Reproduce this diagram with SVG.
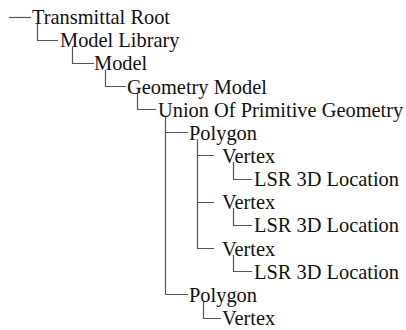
<svg xmlns="http://www.w3.org/2000/svg" width="406" height="330" viewBox="0 0 406 330">
<style>
.t{font-family:"Liberation Serif","Times New Roman",serif;font-size:20.4px;fill:#111}
.c{fill:none;stroke:#555;stroke-width:1.2}
</style>
<rect width="406" height="330" fill="#fff"/>
<g id="connectors">
<path class="c" d="M9 17.5H31"/>
<path class="c" d="M37.5 24V40.5H58"/>
<path class="c" d="M72.5 47V63.5H94"/>
<path class="c" d="M105.5 70V86.5H126"/>
<path class="c" d="M137.5 93V109.5H156"/>
<path class="c" d="M165.5 116V294.5H188M165.5 132.5H188"/>
<path class="c" d="M197.5 139V248.5H214M197.5 155.5H214M197.5 202.5H214"/>
<path class="c" d="M233.5 162V179.5H252"/>
<path class="c" d="M233.5 208V225.5H252"/>
<path class="c" d="M233.5 255V271.5H252"/>
<path class="c" d="M203.5 301V318.5H221"/>
</g>
<g id="n0"><text class="t" x="32" y="24">Transmittal Root</text></g>
<g id="n1"><text class="t" x="60" y="47.2">Model Library</text></g>
<g id="n2"><text class="t" x="94" y="70.3">Model</text></g>
<g id="n3"><text class="t" x="127" y="93.5">Geometry Model</text></g>
<g id="n4"><text class="t" x="158" y="116.6">Union Of Primitive Geometry</text></g>
<g id="n5"><text class="t" x="189" y="139.8">Polygon</text></g>
<g id="n6"><text class="t" x="222" y="162.9">Vertex</text></g>
<g id="n7"><text class="t" x="254" y="186.1">LSR 3D Location</text></g>
<g id="n8"><text class="t" x="222" y="209.2">Vertex</text></g>
<g id="n9"><text class="t" x="254" y="232.4">LSR 3D Location</text></g>
<g id="n10"><text class="t" x="222" y="255.5">Vertex</text></g>
<g id="n11"><text class="t" x="254" y="278.7">LSR 3D Location</text></g>
<g id="n12"><text class="t" x="189" y="301.8">Polygon</text></g>
<g id="n13"><text class="t" x="222" y="325">Vertex</text></g>
</svg>
